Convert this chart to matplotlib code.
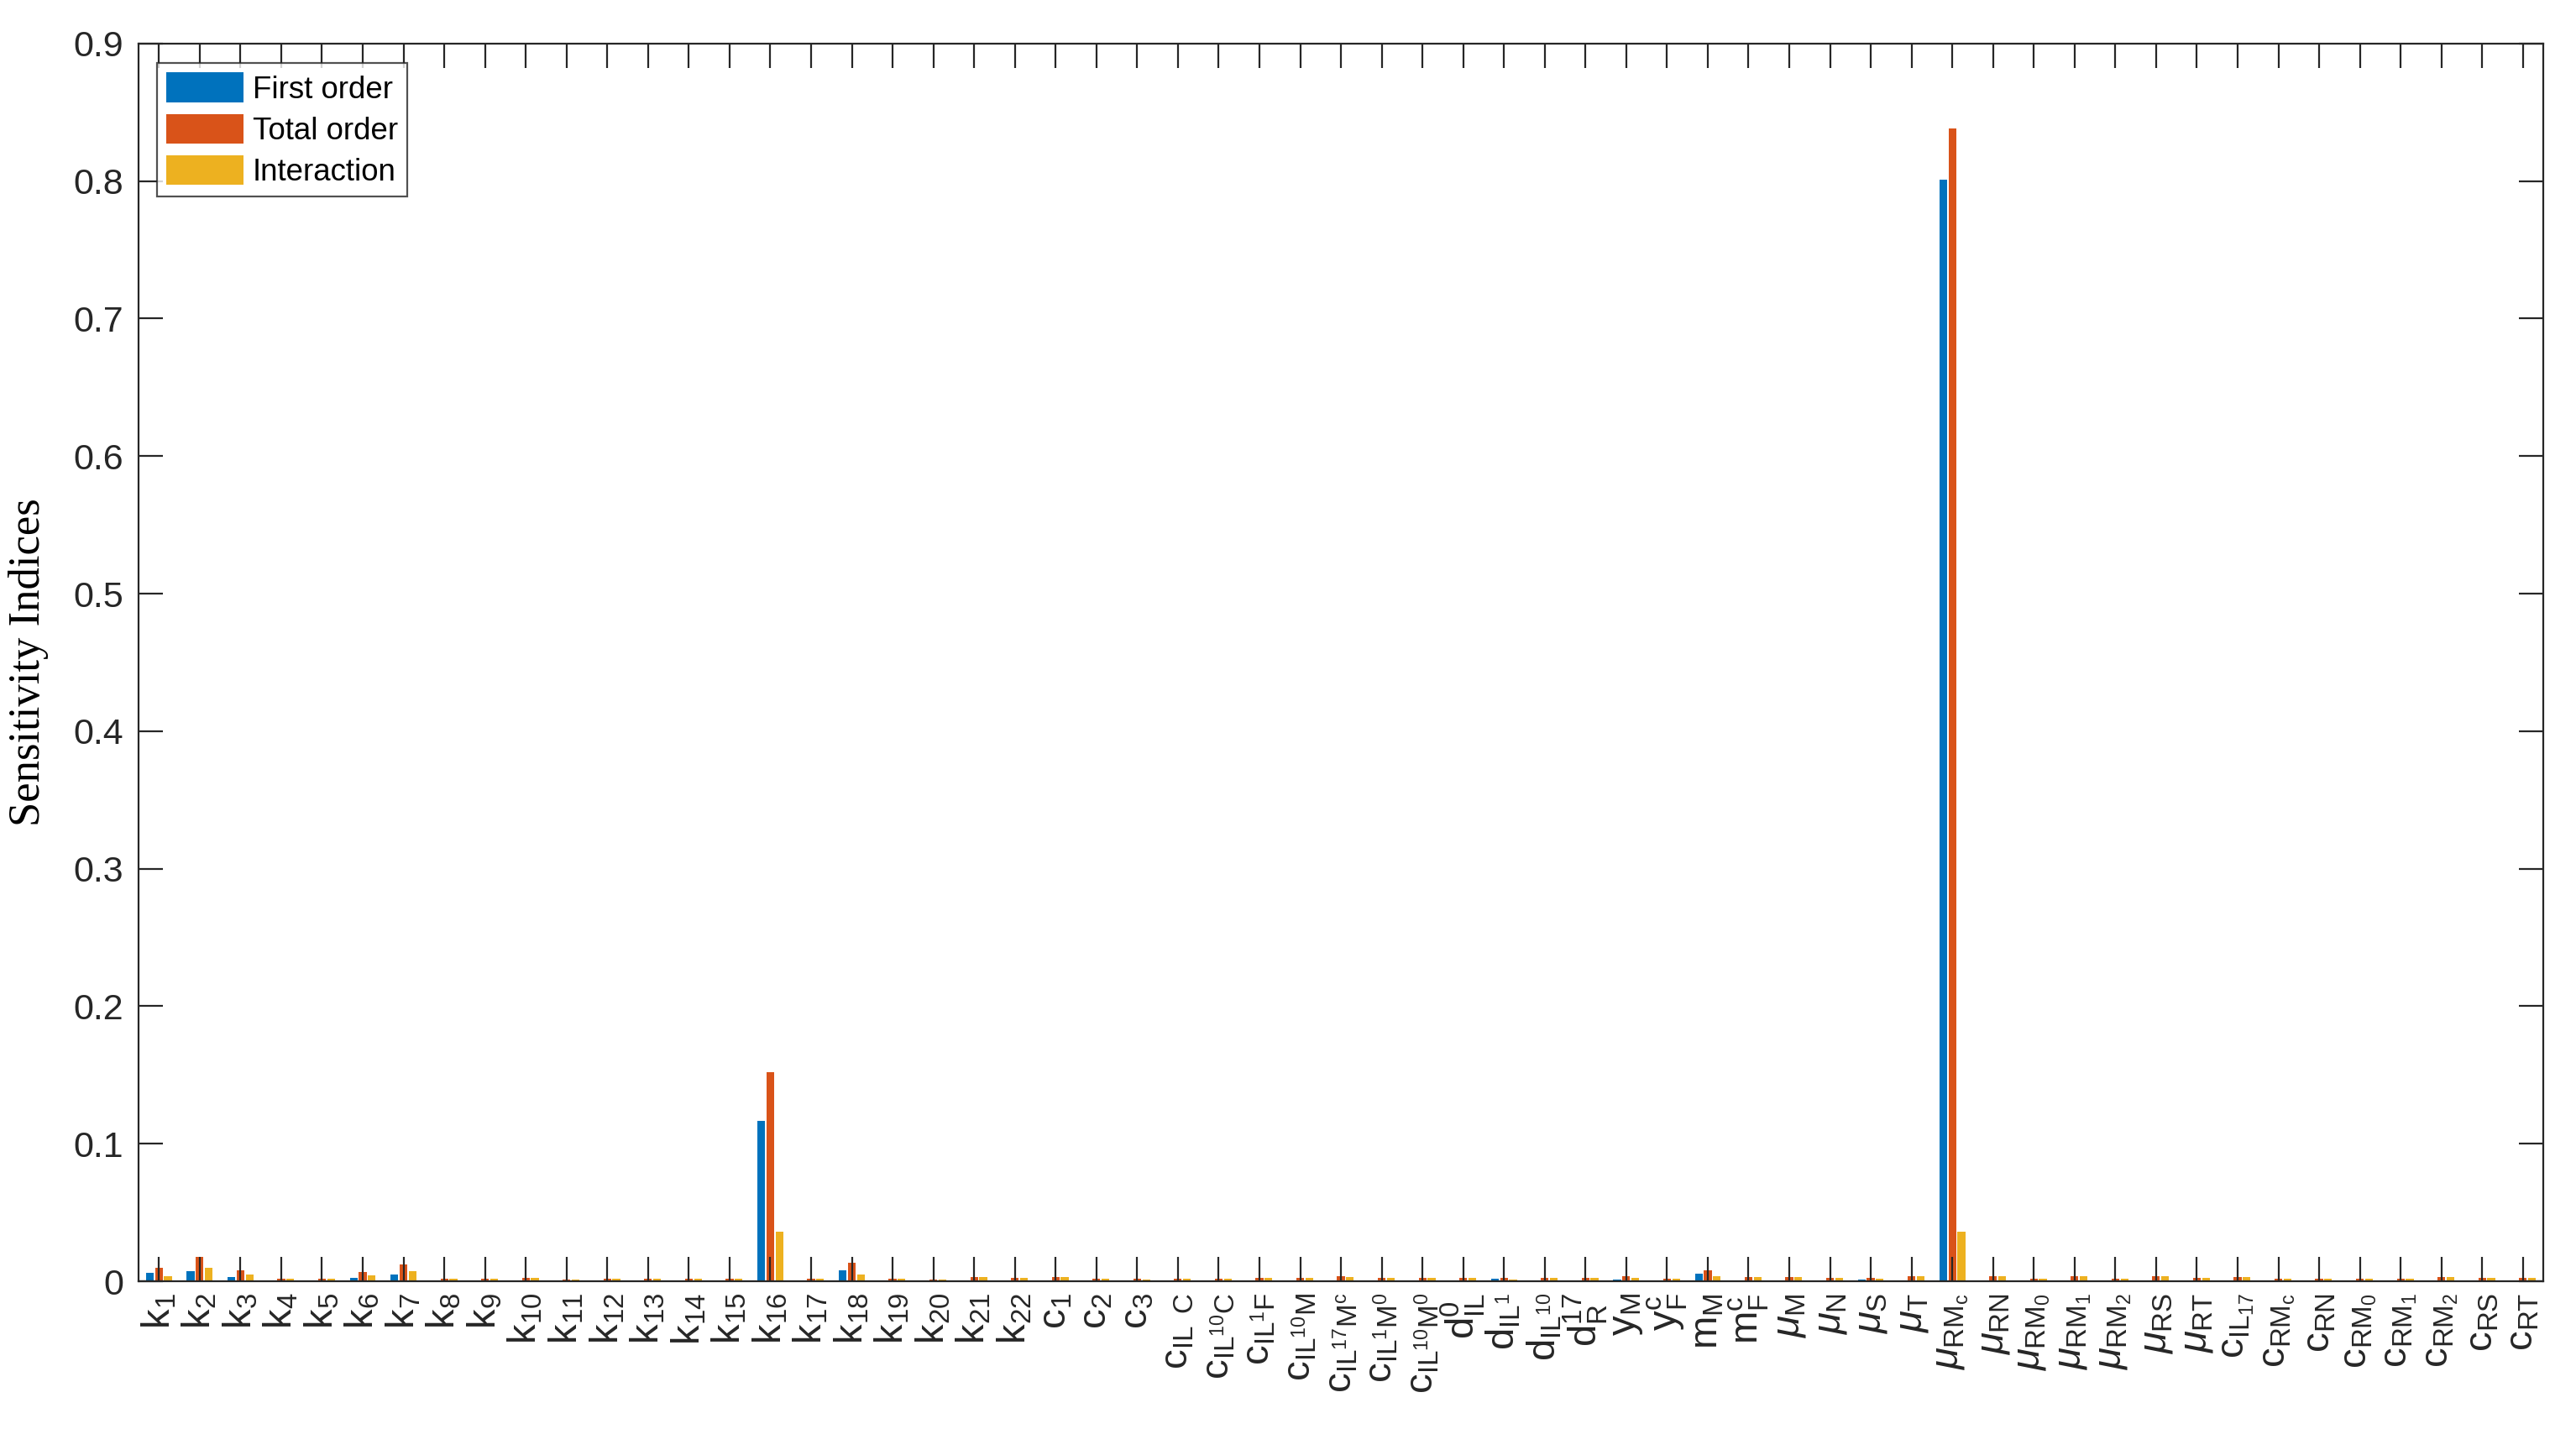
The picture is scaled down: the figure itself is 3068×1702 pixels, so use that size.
import matplotlib
matplotlib.use('Agg')
import matplotlib.pyplot as plt
import numpy as np

PARAM_LABELS = (
    [rf'$k_{{{i}}}$' for i in range(1, 23)]
    + [r'$c_{1}$', r'$c_{2}$', r'$c_{3}$',
       r'$c_{IL\;\;C}$', r'$c_{IL^{10}C}$', r'$c_{IL^{1}F}$', r'$c_{IL^{10}M}$',
       r'$c_{IL^{17}M^{c}}$', r'$c_{IL^{1}M^{0}}$', r'$c_{IL^{10}M^{0}}$',
       r'$d_{IL}^{0}$', r'$d_{IL^{1}}$', r'$d_{IL^{10}}$', r'$d_{R}^{17}$',
       r'$y_{M}$', r'$y_{F}^{c}$', r'$m_{M}$', r'$m_{F}^{c}$',
       r'$\mathit{\mu}_{M}$', r'$\mathit{\mu}_{N}$', r'$\mathit{\mu}_{S}$', r'$\mathit{\mu}_{T}$',
       r'$\mathit{\mu}_{RM_{c}}$', r'$\mathit{\mu}_{RN}$', r'$\mathit{\mu}_{RM_{0}}$',
       r'$\mathit{\mu}_{RM_{1}}$', r'$\mathit{\mu}_{RM_{2}}$', r'$\mathit{\mu}_{RS}$', r'$\mathit{\mu}_{RT}$',
       r'$c_{IL_{17}}$', r'$c_{RM_{c}}$', r'$c_{RN}$', r'$c_{RM_{0}}$', r'$c_{RM_{1}}$',
       r'$c_{RM_{2}}$', r'$c_{RS}$', r'$c_{RT}$']
)

FIRST_ORDER = [
    0.0061, 0.0073, 0.0031, 0.0, 0.0, 0.0024, 0.0049, 0.0, 0.0, 0.0,
    0.0, 0.0, 0.0, 0.0, 0.0, 0.1165, 0.0, 0.0081, 0.0, 0.0,
    0.0, 0.0, 0.0, 0.0, 0.0, 0.0, 0.0, 0.0, 0.0, 0.0,
    0.0, 0.0, 0.0, 0.0016, 0.0, 0.0, 0.0010, 0.0, 0.0053, 0.0,
    0.0, 0.0, 0.0010, 0.0, 0.801, 0.0, 0.0, 0.0, 0.0, 0.0,
    0.0, 0.0, 0.0, 0.0, 0.0, 0.0, 0.0, 0.0, 0.0,
]
TOTAL_ORDER = [
    0.0098, 0.0177, 0.0079, 0.0018, 0.0018, 0.0067, 0.0122, 0.0018, 0.0018, 0.0024,
    0.0012, 0.0018, 0.0018, 0.0018, 0.0018, 0.152, 0.0020, 0.0136, 0.0020, 0.0014,
    0.0029, 0.0022, 0.0029, 0.0016, 0.0016, 0.0016, 0.0016, 0.0022, 0.0022, 0.0035,
    0.0022, 0.0022, 0.0022, 0.0022, 0.0022, 0.0022, 0.0035, 0.0016, 0.0077, 0.0029,
    0.0029, 0.0022, 0.0022, 0.0035, 0.838, 0.0035, 0.0016, 0.0035, 0.0016, 0.0035,
    0.0022, 0.0029, 0.0016, 0.0016, 0.0016, 0.0016, 0.0029, 0.0022, 0.0022,
]
INTERACTION = [
    0.0037, 0.0098, 0.0049, 0.0018, 0.0018, 0.0043, 0.0073, 0.0018, 0.0018, 0.0024,
    0.0012, 0.0018, 0.0018, 0.0018, 0.0018, 0.036, 0.0020, 0.0050, 0.0020, 0.0014,
    0.0029, 0.0022, 0.0029, 0.0016, 0.0010, 0.0016, 0.0016, 0.0022, 0.0022, 0.0029,
    0.0022, 0.0022, 0.0022, 0.0010, 0.0022, 0.0022, 0.0022, 0.0016, 0.0035, 0.0029,
    0.0029, 0.0022, 0.0016, 0.0035, 0.036, 0.0035, 0.0016, 0.0035, 0.0016, 0.0035,
    0.0022, 0.0029, 0.0016, 0.0016, 0.0016, 0.0016, 0.0029, 0.0022, 0.0022,
]
SERIES_NAMES = ['First order', 'Total order', 'Interaction']
COLORS = ['#0072BD', '#D95319', '#EDB120']

plt.rcParams['font.family'] = ['Liberation Sans', 'DejaVu Sans']
plt.rcParams['mathtext.fontset'] = 'custom'
plt.rcParams['mathtext.rm'] = 'Liberation Sans'
plt.rcParams['mathtext.it'] = 'Liberation Sans:italic'
plt.rcParams['mathtext.default'] = 'regular'

fig = plt.figure(figsize=(15.34, 8.51), dpi=200)
ax = fig.add_axes([0.0538, 0.1034, 0.9335, 0.8661])

x = np.arange(len(PARAM_LABELS))
offsets = [-0.222, 0.0, 0.222]
for vals, off, col, name in zip([FIRST_ORDER, TOTAL_ORDER, INTERACTION], offsets, COLORS, SERIES_NAMES):
    ax.bar(x + off, vals, width=0.19, color=col, label=name, linewidth=0)

ax.set_xlim(-0.5, len(PARAM_LABELS) - 0.5)
ax.set_ylim(0, 0.9)
ax.set_yticks(np.arange(0, 0.91, 0.1))
ax.set_yticklabels(['0'] + [f'{v:.1f}' for v in np.arange(0.1, 0.91, 0.1)])
ax.set_xticks(x)
ax.set_xticklabels(PARAM_LABELS, rotation=90)

ax.tick_params(axis='both', direction='in', length=10.5, width=0.8, color='#262626',
               top=True, right=True, labelcolor='#262626')
ax.tick_params(axis='x', pad=5, labelsize=17)
ax.tick_params(axis='y', pad=6.5, labelsize=15.5)
for s in ax.spines.values():
    s.set_linewidth(0.8)
    s.set_color('#262626')

ax.set_ylabel('Sensitivity Indices', family='Liberation Serif', fontsize=19)
ax.yaxis.set_label_coords(-0.0374, 0.5)

leg = ax.legend(loc='upper left', bbox_to_anchor=(0.0077, 0.984), borderaxespad=0,
                fontsize=13.2, frameon=True, fancybox=False, handlelength=2.5,
                handleheight=1.1, handletextpad=0.3, labelspacing=0.3,
                borderpad=0.3)
leg.get_frame().set_edgecolor('#262626')
leg.get_frame().set_linewidth(0.8)

fig.savefig('out.png', dpi=200)
